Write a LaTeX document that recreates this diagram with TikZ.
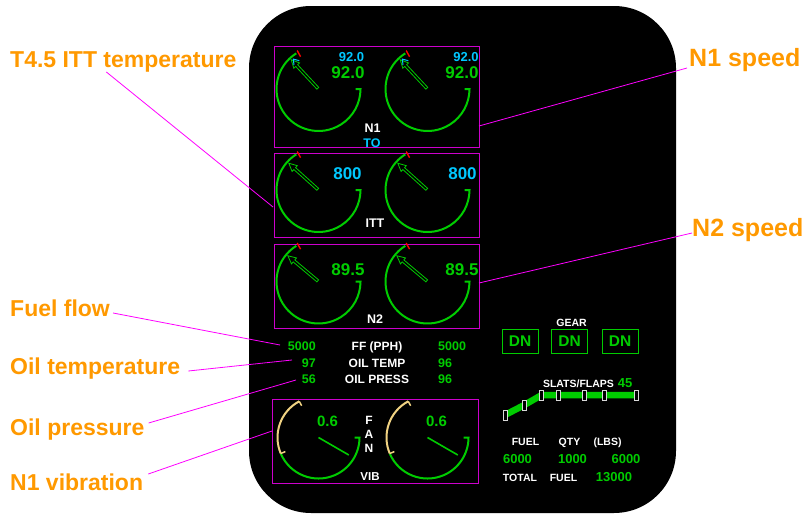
\documentclass[tikz,border=0pt]{standalone}
\usepackage{fontspec}
\setmainfont{Liberation Sans}
\definecolor{egreen}{RGB}{0,204,0}
\definecolor{ecyan}{RGB}{0,200,255}
\definecolor{emag}{RGB}{204,0,204}
\definecolor{lmag}{RGB}{255,0,255}
\definecolor{lorange}{RGB}{255,153,0}
\definecolor{vibyel}{RGB}{240,210,130}
\tikzset{
  fs/.style={font=\fontsize{#1}{#1}\selectfont\bfseries},
  callout/.style={fs=23, text=lorange, anchor=base west},
  leader/.style={draw=lmag, line width=0.8pt},
  framebox/.style={draw=emag, line width=1pt, minimum width=205pt, minimum height=84pt},
  bigval/.style={fs=17, anchor=base},
  wtxt/.style={text=white, anchor=base},
  gtxt/.style={text=egreen, anchor=base},
  dnbox/.style={draw=egreen, line width=1pt, text=egreen, fs=15.5, minimum width=36pt, minimum height=24pt},
  flapmark/.style={draw=white!85!black, fill=black, line width=0.9pt},
  dial/.pic={
    \begin{scope}[yscale=-1]
      \draw[egreen, line width=2pt] (122:42) arc[start angle=122, end angle=360, radius=42] -- ++(-5,0);
      \draw[red, line width=1.4pt] (119:37) -- (119:44);
    \end{scope}
    \begin{scope}[rotate=#1]
      \draw[egreen, line width=0.8pt, line join=miter]
        (1,-1.3) -- (32,-1.3) -- (32,-3.9) -- (40,0) -- (32,3.9) -- (32,1.3) -- (1,1.3) -- cycle;
    \end{scope}
  },
  vibdial/.pic={
    \begin{scope}[yscale=-1]
      \draw[egreen, line width=2pt] (203:41) arc[start angle=203, end angle=360, radius=41] -- ++(-5,0);
      \draw[vibyel, line width=2pt] (118:41) arc[start angle=118, end angle=203, radius=41];
      \draw[vibyel, line width=1.5pt] (118:41) -- (118:36) (203:41) -- (203:36);
      \draw[egreen, line width=1.6pt] (0,0) -- (-30:35);
    \end{scope}
  },
  target/.pic={
    \begin{scope}[rotate=130]
      \draw[ecyan, line width=1pt] (34,-3.5) -- (39,0) -- (34,3.5);
    \end{scope}
  }
}
\begin{document}
\begin{tikzpicture}[x=1pt, y=-1pt, every node/.style={inner sep=0pt}]
\useasboundingbox (0,0) rectangle (812,522);
\fill[white] (0,0) rectangle (812,522);
\fill[black, rounded corners=62pt] (249,6) rectangle (676,513);

% frames
\node[framebox, minimum height=101pt] (n1box) at (376.5,96.5) {};
\node[framebox] (ittbox) at (376.5,195) {};
\node[framebox] (n2box) at (376.5,286) {};
\node[framebox, minimum width=206pt] (vibbox) at (375,441) {};

% dials
\pic at (318.5,89) {dial=133};
\pic at (427.5,89) {dial=133};
\pic at (318.5,89) {target};
\pic at (427.5,89) {target};
\pic at (318.5,190) {dial=138};
\pic at (427.5,190) {dial=138};
\pic at (318.5,281.5) {dial=140};
\pic at (427.5,281.5) {dial=140};
\pic at (318.5,437.5) {vibdial};
\pic at (427.5,437.5) {vibdial};

% N1
\node[bigval, text=egreen] (n1l) at (348,78.2) {92.0};
\node[bigval, text=egreen] (n1r) at (462,78.2) {92.0};
\node[fs=13, text=ecyan, anchor=base] (n1lt) at (351.5,61) {92.0};
\node[fs=13, text=ecyan, anchor=base] (n1rt) at (466,61) {92.0};
\node[wtxt, fs=12.5] (n1lbl) at (372.5,132.5) {N1};
\node[fs=12.5, text=ecyan, anchor=base] (tolbl) at (372,147) {TO};
% ITT
\node[bigval, text=ecyan] (ittl) at (347.5,179.6) {800};
\node[bigval, text=ecyan] (ittr) at (462.5,179.6) {800};
\node[wtxt, fs=12.5] (ittlbl) at (375,227.5) {ITT};
% N2
\node[bigval, text=egreen] (n2l) at (348,275.6) {89.5};
\node[bigval, text=egreen] (n2r) at (462,275.6) {89.5};
\node[wtxt, fs=12.5] (n2lbl) at (375,323) {N2};

% engine parameters
\node[gtxt, fs=12.5, anchor=base east] (ffl) at (316,350.3) {5000};
\node[wtxt, fs=12] (ff) at (377,350.3) {FF (PPH)};
\node[gtxt, fs=12.5, anchor=base west] (ffr) at (438,350.3) {5000};
\node[gtxt, fs=12.5, anchor=base east] (otl) at (316,367.3) {97};
\node[wtxt, fs=12] (ot) at (377,367.3) {OIL TEMP};
\node[gtxt, fs=12.5, anchor=base west] (otr) at (438,367.3) {96};
\node[gtxt, fs=12.5, anchor=base east] (opl) at (316,383.3) {56};
\node[wtxt, fs=12] (op) at (377,383.3) {OIL PRESS};
\node[gtxt, fs=12.5, anchor=base west] (opr) at (438,383.3) {96};

% vibration
\node[gtxt, fs=15] (vibl) at (327.5,426) {0.6};
\node[gtxt, fs=15] (vibr) at (436.5,426) {0.6};
\node[wtxt, fs=12] (fanf) at (369,424.3) {F};
\node[wtxt, fs=12] (fana) at (369,438.3) {A};
\node[wtxt, fs=12] (fann) at (369,452.3) {N};
\node[wtxt, fs=11.5] (viblbl) at (370,480.2) {VIB};

% gear
\node[wtxt, fs=10.5] (gear) at (571.5,326.3) {GEAR};
\node[dnbox] (dn1) at (520,341) {DN};
\node[dnbox] (dn2) at (569.5,341) {DN};
\node[dnbox] (dn3) at (620,341) {DN};

% slats / flaps
\node[wtxt, fs=10.5] (slats) at (578.5,387.3) {SLATS/FLAPS};
\node[gtxt, fs=13] (flapval) at (625,387.2) {45};
\draw[egreen, line width=6.5pt, line join=round] (505,415) -- (524.3,405) -- (541.7,395) -- (636,395);
\foreach \px/\py in {505/415, 524.3/405, 541.7/395, 558.3/395, 584/395, 604.3/395, 636/395}
  \draw[flapmark] (\px-2,\py-5) rectangle (\px+2,\py+5);

% fuel
\node[wtxt, fs=10.5] (fuelh) at (525.5,445.3) {FUEL};
\node[wtxt, fs=10.5] (qtyh) at (569.5,445.3) {QTY};
\node[wtxt, fs=10.5] (lbsh) at (607.5,445.3) {(LBS)};
\node[gtxt, fs=13] (fq1) at (517.5,463.2) {6000};
\node[gtxt, fs=13] (fq2) at (572.5,463.2) {1000};
\node[gtxt, fs=13] (fq3) at (626,463.2) {6000};
\node[wtxt, fs=10.5] (totl) at (520,481.8) {TOTAL};
\node[wtxt, fs=10.5] (totf) at (563.5,481.8) {FUEL};
\node[gtxt, fs=13] (totv) at (614,481.3) {13000};

% callouts
\node[callout] (c45) at (10,67) {T4.5 ITT temperature};
\node[callout, fs=25] (cn1) at (689,66) {N1 speed};
\node[callout, fs=25] (cn2) at (692,236) {N2 speed};
\node[callout] (cff) at (10,316) {Fuel flow};
\node[callout] (cot) at (10,374) {Oil temperature};
\node[callout] (cop) at (10,435) {Oil pressure};
\node[callout] (cvib) at (10,490) {N1 vibration};

\coordinate (e45) at (273,207);
\coordinate (en1) at (479,126);
\coordinate (en2) at (479,283);
\coordinate (eff) at (280,345);
\coordinate (eot) at (292,360);
\coordinate (eop) at (296,380);
\coordinate (evib) at (272,431);

\draw[leader] ([xshift=-17pt]c45.south) -- (e45);
\draw[leader] ([xshift=-2pt,yshift=-2pt]cn1.base west) -- (en1);
\draw[leader] ([xshift=0pt,yshift=3pt]cn2.base west) -- (en2);
\draw[leader] ([xshift=3pt,yshift=3pt]cff.base east) -- (eff);
\draw[leader] ([xshift=8pt,yshift=3pt]cot.base east) -- (eot);
\draw[leader] ([xshift=4pt,yshift=12pt]cop.base east) -- (eop);
\draw[leader] ([xshift=5pt,yshift=16pt]cvib.base east) -- (evib);
\end{tikzpicture}
\end{document}
